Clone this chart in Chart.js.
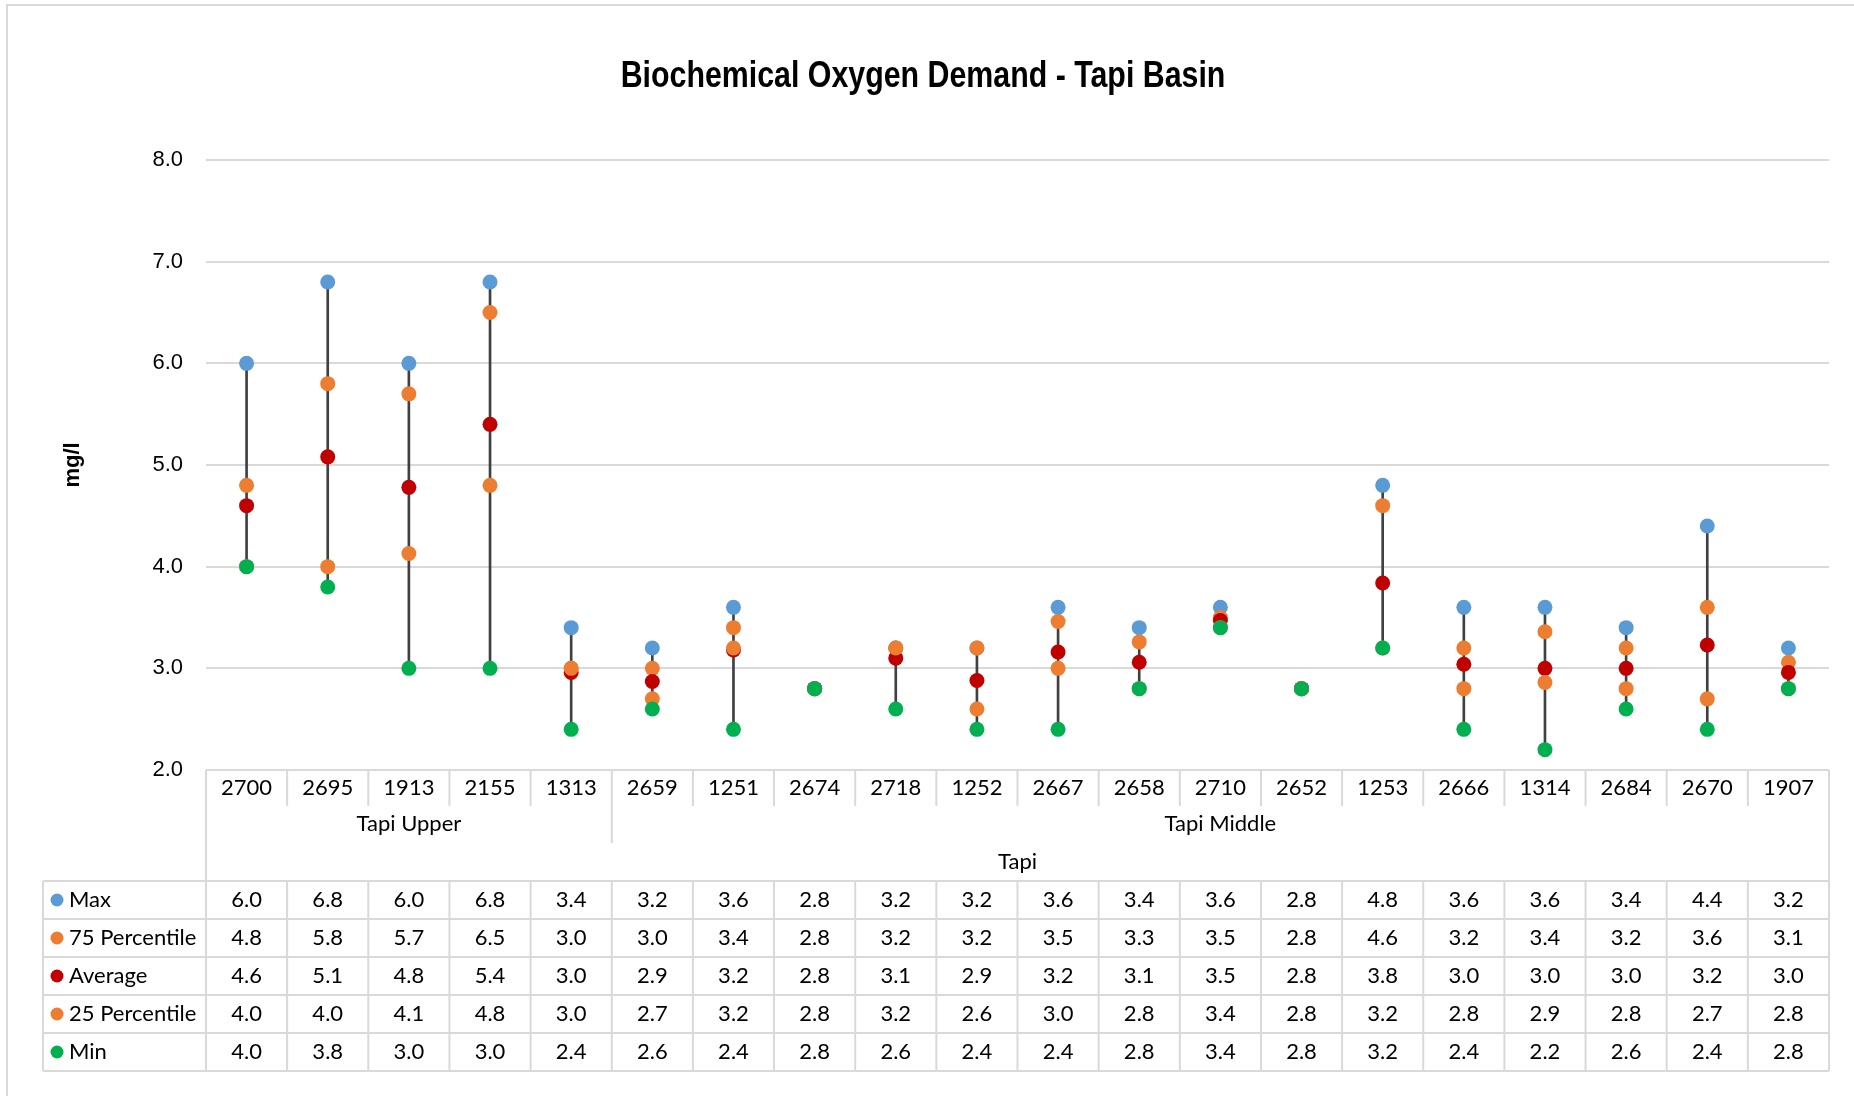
<!DOCTYPE html>
<html>
<head>
<meta charset="utf-8">
<title>Biochemical Oxygen Demand - Tapi Basin</title>
<script src="https://cdn.jsdelivr.net/npm/chart.js@4/dist/chart.umd.min.js"></script>
<style>
  html, body { margin: 0; padding: 0; background: #fff; }
  canvas { display: block; }
</style>
</head>
<body>
<canvas id="bodChart" width="1854" height="1096"></canvas>
<script>
// stations along the x axis
const stations = ['2700', '2695', '1913', '2155', '1313', '2659', '1251', '2674', '2718', '1252',
                  '2667', '2658', '2710', '2652', '1253', '2666', '1314', '2684', '2670', '1907'];
const groupNames = ['Tapi Upper', 'Tapi Middle'];
const groupSizes = [5, 15];
const basinName = 'Tapi';
const chartTitle = 'Biochemical Oxygen Demand - Tapi Basin';

// mg/l values
const maxVals = [6.0, 6.8, 6.0, 6.8, 3.4, 3.2, 3.6, 2.8, 3.2, 3.2, 3.6, 3.4, 3.6, 2.8, 4.8, 3.6, 3.6, 3.4, 4.4, 3.2];
const p75Vals = [4.8, 5.8, 5.7, 6.5, 3.0, 3.0, 3.4, 2.8, 3.2, 3.2, 3.46, 3.26, 3.5, 2.8, 4.6, 3.2, 3.36, 3.2, 3.6, 3.06];
const avgVals = [4.6, 5.08, 4.78, 5.4, 2.96, 2.87, 3.18, 2.8, 3.1, 2.88, 3.16, 3.06, 3.47, 2.8, 3.84, 3.04, 3.0, 3.0, 3.23, 2.96];
const p25Vals = [4.0, 4.0, 4.13, 4.8, 3.0, 2.7, 3.2, 2.8, 3.2, 2.6, 3.0, 2.8, 3.4, 2.8, 3.2, 2.8, 2.86, 2.8, 2.7, 2.8];
const minVals = [4.0, 3.8, 3.0, 3.0, 2.4, 2.6, 2.4, 2.8, 2.6, 2.4, 2.4, 2.8, 3.4, 2.8, 3.2, 2.4, 2.2, 2.6, 2.4, 2.8];

const yMin = 2, yMax = 8, yStep = 1;

const seriesNames = ['Max', '75 Percentile', 'Average', '25 Percentile', 'Min'];
const seriesColors = ['#5B9BD5', '#ED7D31', '#C00000', '#ED7D31', '#00B050'];
const seriesData = [maxVals, p75Vals, avgVals, p25Vals, minVals];

const sans = "'Liberation Sans', Arial, sans-serif";
const tableFont = "Lato, 'Open Sans', sans-serif";
const gridColor = '#d9d9d9';

// chart border + condensed title (no narrow font installed, so squeeze it)
const framePlugin = {
    id: 'frame',
    beforeDraw(chart) {
        const ctx = chart.ctx;
        ctx.save();
        ctx.strokeStyle = gridColor;
        ctx.lineWidth = 2;
        ctx.strokeRect(7, 5, 1900, 1200);
        ctx.restore();
    },
    afterDraw(chart) {
        const ctx = chart.ctx;
        ctx.save();
        ctx.translate(923, 77);
        ctx.scale(0.82, 1);
        ctx.font = 'bold 37px ' + sans;
        ctx.fillStyle = '#000';
        ctx.textAlign = 'center';
        ctx.textBaseline = 'middle';
        ctx.fillText(chartTitle, 0, 0);
        ctx.restore();
    }
};

// data table under the plot (Excel style), columns taken from the x scale
const tablePlugin = {
    id: 'dataTable',
    afterDraw(chart) {
        const ctx = chart.ctx;
        const area = chart.chartArea;
        const xs = chart.scales.x;
        const n = stations.length;
        const colW = area.width / n;
        const edges = [];
        for (let i = 0; i < n; i++) edges.push(xs.getPixelForValue(i) - colW / 2);
        edges.push(edges[n - 1] + colW);

        const catTop = area.bottom;
        const groupTop = catTop + 36;
        const basinTop = groupTop + 37;
        const dataTop = basinTop + 38;
        const rowH = 38;
        const tableEnd = dataTop + rowH * seriesNames.length;
        const legendLeft = 43;

        ctx.save();
        ctx.strokeStyle = gridColor;
        ctx.lineWidth = 2;
        ctx.beginPath();
        edges.forEach(x => { ctx.moveTo(x, catTop); ctx.lineTo(x, groupTop); });
        ctx.moveTo(edges[0], catTop); ctx.lineTo(edges[0], tableEnd);
        ctx.moveTo(edges[n], catTop); ctx.lineTo(edges[n], tableEnd);
        let acc = 0;
        groupSizes.slice(0, -1).forEach(s => {
            acc += s;
            ctx.moveTo(edges[acc], groupTop); ctx.lineTo(edges[acc], basinTop);
        });
        for (let k = 0; k <= seriesNames.length; k++) {
            const y = dataTop + k * rowH;
            ctx.moveTo(legendLeft, y); ctx.lineTo(edges[n], y);
        }
        ctx.moveTo(legendLeft, dataTop); ctx.lineTo(legendLeft, tableEnd);
        edges.forEach(x => { ctx.moveTo(x, dataTop); ctx.lineTo(x, tableEnd); });
        ctx.stroke();

        ctx.fillStyle = '#000';
        ctx.font = '22px ' + tableFont;
        ctx.textAlign = 'center';
        ctx.textBaseline = 'middle';
        stations.forEach((s, i) => ctx.fillText(s, xs.getPixelForValue(i), catTop + 18));

        acc = 0;
        groupNames.forEach((g, j) => {
            const cx = (edges[acc] + edges[acc + groupSizes[j]]) / 2;
            ctx.fillText(g, cx, groupTop + 18);
            acc += groupSizes[j];
        });
        ctx.fillText(basinName, (edges[0] + edges[n]) / 2, basinTop + 19);

        seriesNames.forEach((name, k) => {
            const cy = dataTop + k * rowH + rowH / 2;
            ctx.fillStyle = seriesColors[k];
            ctx.beginPath();
            ctx.arc(57, cy, 6.5, 0, Math.PI * 2);
            ctx.fill();
            ctx.fillStyle = '#000';
            ctx.textAlign = 'left';
            ctx.fillText(name, 69, cy);
            ctx.textAlign = 'center';
            seriesData[k].forEach((v, i) => ctx.fillText(v.toFixed(1), xs.getPixelForValue(i), cy));
        });
        ctx.restore();
    }
};

const pointSets = seriesNames.map((name, k) => ({
    type: 'line',
    label: name,
    data: seriesData[k],
    showLine: false,
    pointRadius: 7.5,
    pointHoverRadius: 7.5,
    pointBorderWidth: 0,
    pointBackgroundColor: seriesColors[k],
    order: 5 - k
}));

const ctx = document.getElementById('bodChart').getContext('2d');

new Chart(ctx, {
    type: 'bar',
    data: {
        labels: stations,
        datasets: [
            {
                label: 'Range',
                data: minVals.map((v, i) => [v, maxVals[i]]),
                backgroundColor: '#404040',
                barThickness: 2,
                order: 10
            },
            ...pointSets
        ]
    },
    options: {
        responsive: false,
        animation: false,
        events: [],
        layout: { padding: { left: 6, right: 25, top: 160, bottom: 326 } },
        plugins: {
            legend: { display: false },
            tooltip: { enabled: false },
            title: { display: false }
        },
        scales: {
            x: { display: false },
            y: {
                min: yMin,
                max: yMax,
                afterFit: s => { s.width = 200; },
                border: { display: false },
                grid: { color: gridColor, lineWidth: 2, drawTicks: false },
                ticks: {
                    stepSize: yStep,
                    padding: 23,
                    color: '#000',
                    font: { family: sans, size: 22 },
                    callback: v => Number(v).toFixed(1)
                },
                title: {
                    display: true,
                    text: 'mg/l',
                    color: '#000',
                    font: { family: sans, size: 22, weight: 'bold' },
                    padding: { top: 54 }
                }
            }
        }
    },
    plugins: [framePlugin, tablePlugin]
});
</script>
</body>
</html>
